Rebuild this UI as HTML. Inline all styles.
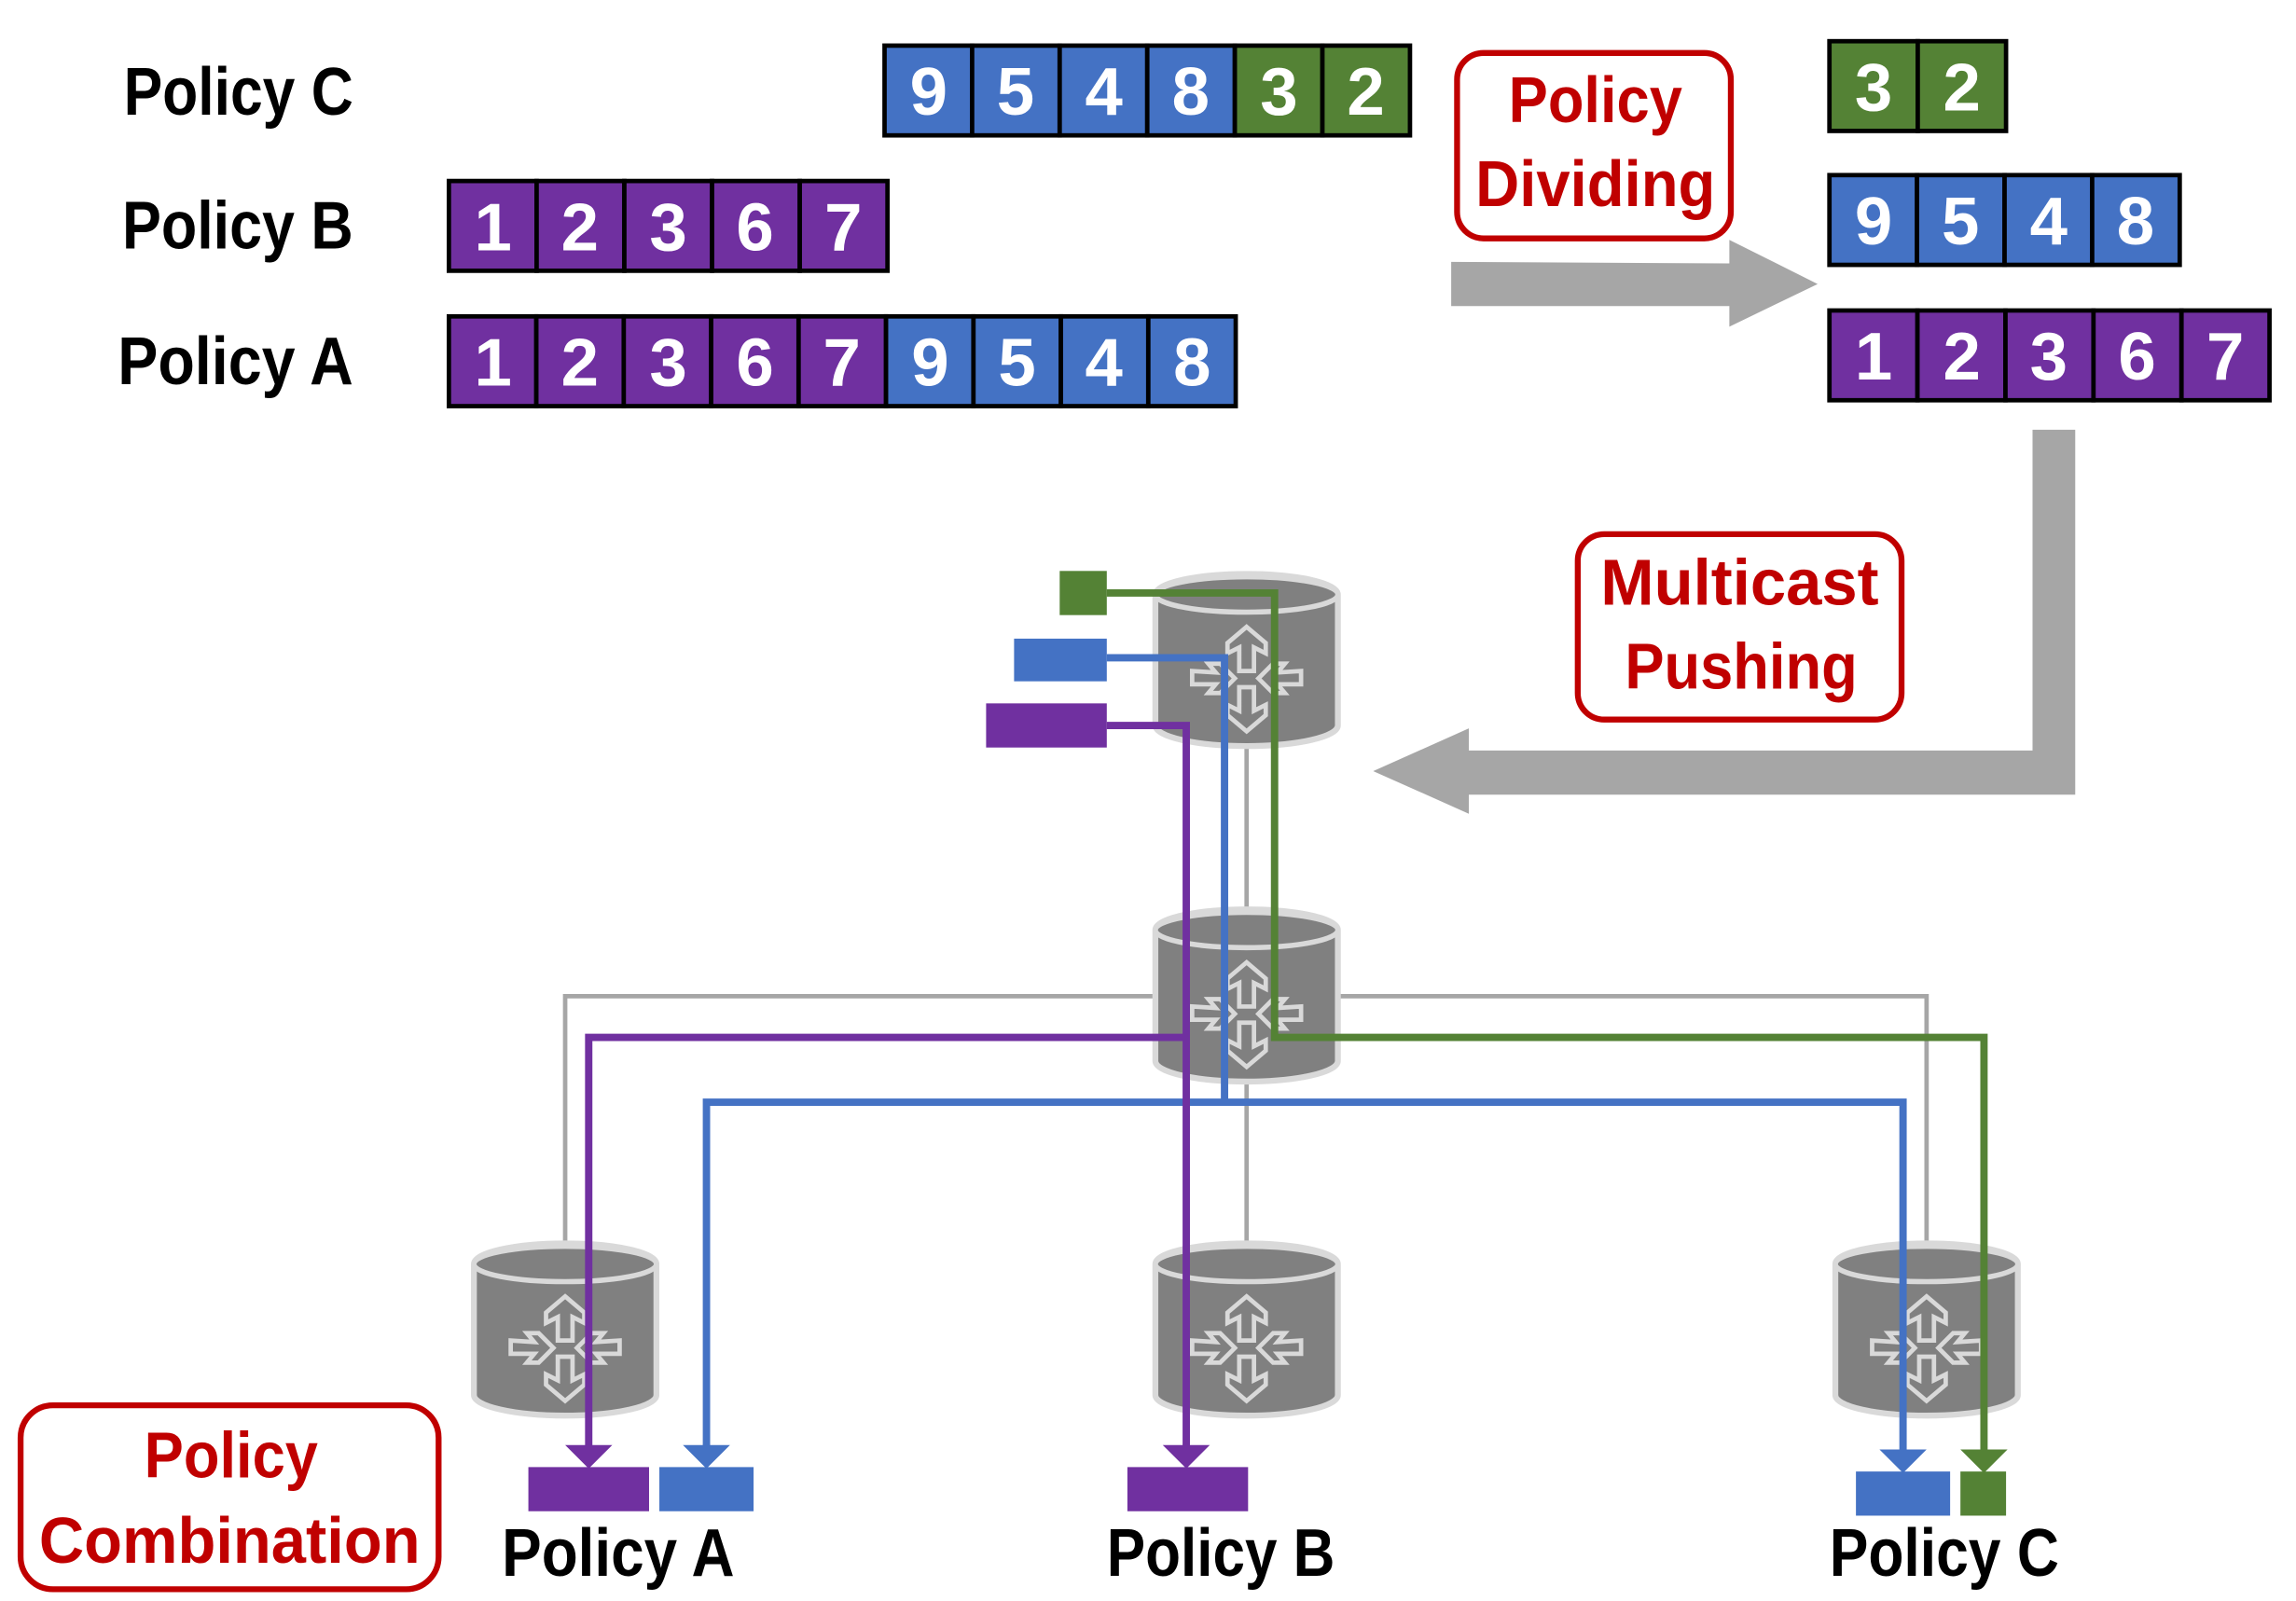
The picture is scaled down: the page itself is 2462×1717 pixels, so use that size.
<!DOCTYPE html>
<html><head><meta charset="utf-8"><style>html,body{margin:0;padding:0;background:#fff}svg{display:block}</style></head>
<body>
<svg width="2462" height="1717" viewBox="0 0 1560 1088" preserveAspectRatio="none" xmlns="http://www.w3.org/2000/svg" font-family="'Liberation Sans', sans-serif" font-weight="bold">
<defs>
<g id="rt">
<path d="M-62,14 A62,14 0 0 1 62,14 L62,103 A62,14 0 0 1 -62,103 Z" fill="#808080" stroke="#D9D9D9" stroke-width="4"/>
<ellipse cx="0" cy="14" rx="62" ry="12" fill="#808080" stroke="#D9D9D9" stroke-width="3.5"/>
<g fill="none" stroke="#D9D9D9" stroke-width="3">
<path d="M0,36 L13,47 L13,54 L5,50 L5,66 L-5,66 L-5,50 L-13,54 L-13,47 Z"/>
<path d="M0,107 L13,96 L13,89 L5,93 L5,77 L-5,77 L-5,93 L-13,89 L-13,96 Z"/>
<path d="M-8,71 L-18,61 L-26,61 L-21,67 L-37,66 L-37,75 L-21,75 L-26,81 L-18,81 Z"/>
<path d="M8,71 L18,61 L26,61 L21,67 L37,66 L37,75 L21,75 L26,81 L18,81 Z"/>
</g>
</g>
</defs>

<!-- left labels -->
<g font-size="46" fill="#000">
<text x="84" y="78" textLength="156" lengthAdjust="spacingAndGlyphs">Policy C</text>
<text x="83" y="169" textLength="157" lengthAdjust="spacingAndGlyphs">Policy B</text>
<text x="80" y="261" textLength="160" lengthAdjust="spacingAndGlyphs">Policy A</text>
</g>

<!-- cells -->
<g stroke="#000" stroke-width="3">
<rect x="601" y="31" width="59.5" height="61" fill="#4472C4"/><rect x="660.5" y="31" width="59.5" height="61" fill="#4472C4"/><rect x="720" y="31" width="59.5" height="61" fill="#4472C4"/><rect x="779.5" y="31" width="59.5" height="61" fill="#4472C4"/><rect x="839" y="31" width="59.5" height="61" fill="#548235"/><rect x="898.5" y="31" width="59.5" height="61" fill="#548235"/>
<rect x="305" y="123" width="59.6" height="61" fill="#7030A0"/><rect x="364.6" y="123" width="59.6" height="61" fill="#7030A0"/><rect x="424.2" y="123" width="59.6" height="61" fill="#7030A0"/><rect x="483.8" y="123" width="59.6" height="61" fill="#7030A0"/><rect x="543.4" y="123" width="59.6" height="61" fill="#7030A0"/>
<rect x="305" y="215" width="59.4" height="61" fill="#7030A0"/><rect x="364.4" y="215" width="59.4" height="61" fill="#7030A0"/><rect x="423.8" y="215" width="59.4" height="61" fill="#7030A0"/><rect x="483.2" y="215" width="59.4" height="61" fill="#7030A0"/><rect x="542.6" y="215" width="59.4" height="61" fill="#7030A0"/><rect x="602" y="215" width="59.4" height="61" fill="#4472C4"/><rect x="661.4" y="215" width="59.4" height="61" fill="#4472C4"/><rect x="720.8" y="215" width="59.4" height="61" fill="#4472C4"/><rect x="780.2" y="215" width="59.4" height="61" fill="#4472C4"/>
<rect x="1243" y="28" width="60" height="61" fill="#548235"/><rect x="1303" y="28" width="60" height="61" fill="#548235"/>
<rect x="1243" y="119" width="59.5" height="61" fill="#4472C4"/><rect x="1302.5" y="119" width="59.5" height="61" fill="#4472C4"/><rect x="1362" y="119" width="59.5" height="61" fill="#4472C4"/><rect x="1421.5" y="119" width="59.5" height="61" fill="#4472C4"/>
<rect x="1243" y="211" width="59.8" height="61" fill="#7030A0"/><rect x="1302.8" y="211" width="59.8" height="61" fill="#7030A0"/><rect x="1362.6" y="211" width="59.8" height="61" fill="#7030A0"/><rect x="1422.4" y="211" width="59.8" height="61" fill="#7030A0"/><rect x="1482.2" y="211" width="59.8" height="61" fill="#7030A0"/>
</g>
<g font-size="46" fill="#fff" text-anchor="middle">
<text x="631" y="78">9</text><text x="690" y="78">5</text><text x="750" y="78">4</text><text x="809" y="78">8</text><text x="869" y="78">3</text><text x="928" y="78">2</text>
<text x="335" y="170">1</text><text x="394" y="170">2</text><text x="454" y="170">3</text><text x="513" y="170">6</text><text x="573" y="170">7</text>
<text x="335" y="262">1</text><text x="394" y="262">2</text><text x="454" y="262">3</text><text x="513" y="262">6</text><text x="572" y="262">7</text><text x="632" y="262">9</text><text x="691" y="262">5</text><text x="750" y="262">4</text><text x="810" y="262">8</text>
<text x="1273" y="75">3</text><text x="1333" y="75">2</text>
<text x="1273" y="166">9</text><text x="1332" y="166">5</text><text x="1392" y="166">4</text><text x="1451" y="166">8</text>
<text x="1273" y="258">1</text><text x="1333" y="258">2</text><text x="1392" y="258">3</text><text x="1452" y="258">6</text><text x="1512" y="258">7</text>
</g>

<!-- gray arrows -->
<polygon points="986,178 1175,179 1175,163 1235,193 1175,222 1175,208 986,208" fill="#A6A6A6"/>
<polygon points="1381,292 1410,292 1410,540 998,540 998,553 933,524 998,495 998,510 1381,510" fill="#A6A6A6"/>

<!-- red boxes -->
<g fill="none" stroke="#C00000" stroke-width="4">
<rect x="990" y="36" width="186" height="126" rx="18"/>
<rect x="1072" y="363" width="220" height="126" rx="18"/>
<rect x="14" y="955" width="284" height="125" rx="22"/>
</g>
<g font-size="44" fill="#C00000" text-anchor="middle">
<text x="1084" y="83" textLength="118" lengthAdjust="spacingAndGlyphs">Policy</text>
<text x="1084" y="140" textLength="163" lengthAdjust="spacingAndGlyphs">Dividing</text>
<text x="1182" y="411" textLength="189" lengthAdjust="spacingAndGlyphs">Multicast</text>
<text x="1183" y="468" textLength="158" lengthAdjust="spacingAndGlyphs">Pushing</text>
<text x="157" y="1004" textLength="118" lengthAdjust="spacingAndGlyphs">Policy</text>
<text x="156" y="1062" textLength="259" lengthAdjust="spacingAndGlyphs">Combination</text>
</g>

<!-- gray links -->
<g stroke="#A6A6A6" stroke-width="3" fill="none">
<line x1="847" y1="500" x2="847" y2="625"/>
<line x1="847" y1="730" x2="847" y2="850"/>
<polyline points="384,850 384,677 1309,677 1309,850"/>
</g>

<!-- routers -->
<use href="#rt" x="847" y="390"/>
<use href="#rt" x="847" y="618"/>
<use href="#rt" x="384" y="845"/>
<use href="#rt" x="847" y="845"/>
<use href="#rt" x="1309" y="845"/>

<!-- colored lines -->
<g fill="none" stroke-width="5" stroke-linejoin="miter">
<polyline stroke="#548235" points="752,403 866,403 866,705 1348,705 1348,988"/>
<polyline stroke="#4472C4" points="752,447 832,447 832,749"/>
<polyline stroke="#4472C4" points="480,988 480,749 1293,749 1293,988"/>
<polyline stroke="#7030A0" points="752,493 806,493 806,988"/>
<polyline stroke="#7030A0" points="400,988 400,705 806,705"/>
</g>
<!-- source boxes -->
<rect x="720" y="388" width="32" height="30" fill="#548235"/>
<rect x="689" y="434" width="63" height="29" fill="#4472C4"/>
<rect x="670" y="478" width="82" height="30" fill="#7030A0"/>
<!-- arrowheads -->
<polygon points="384,982 416,982 400,998" fill="#7030A0"/>
<polygon points="464,982 496,982 480,998" fill="#4472C4"/>
<polygon points="790,982 822,982 806,998" fill="#7030A0"/>
<polygon points="1277,985 1309,985 1293,1001" fill="#4472C4"/>
<polygon points="1332,985 1364,985 1348,1001" fill="#548235"/>
<!-- dest boxes -->
<rect x="359" y="997" width="82" height="30" fill="#7030A0"/>
<rect x="448" y="997" width="64" height="30" fill="#4472C4"/>
<rect x="766" y="997" width="82" height="30" fill="#7030A0"/>
<rect x="1261" y="1000" width="64" height="30" fill="#4472C4"/>
<rect x="1332" y="1000" width="31" height="30" fill="#548235"/>

<g font-size="46" fill="#000">
<text x="341" y="1071" textLength="158" lengthAdjust="spacingAndGlyphs">Policy A</text>
<text x="752" y="1071" textLength="155" lengthAdjust="spacingAndGlyphs">Policy B</text>
<text x="1243" y="1071" textLength="156" lengthAdjust="spacingAndGlyphs">Policy C</text>
</g>
</svg>
</body></html>
